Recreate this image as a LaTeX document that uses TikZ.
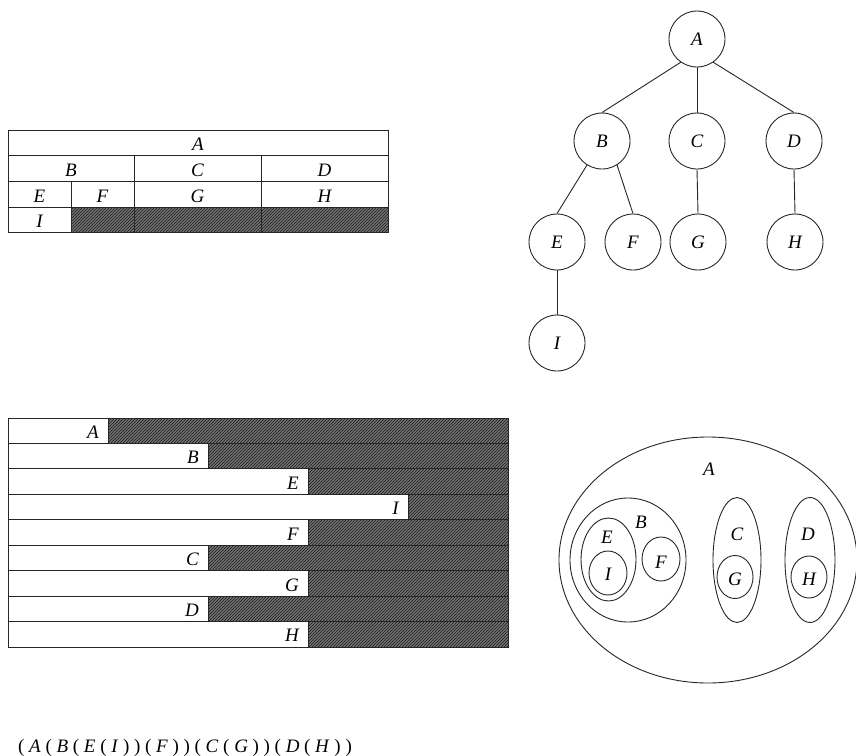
\documentclass[tikz,border=0pt]{standalone}
\usepackage{fontspec}
\setmainfont{Liberation Serif}
\usetikzlibrary{patterns}

\newcommand\chgap{\hspace{4.7pt}}
\newcommand\lt[1]{\textit{#1}\chgap}
\newcommand\pa[1]{#1\chgap}

\tikzset{
  ink/.style={draw=black!85, line width=0.9pt},
  lbl/.style={font=\fontsize{19}{22}\selectfont\itshape, inner sep=0pt},
  treenode/.style={circle, ink, minimum size=56pt, inner sep=0pt,
                   font=\fontsize{19}{22}\selectfont\itshape},
  hatched/.style={fill=black!55,
                  postaction={pattern=north east lines, pattern color=black!90}},
}

\begin{document}
\begin{tikzpicture}[x=1pt, y=-1pt]
\useasboundingbox (0,0) rectangle (856,755);

% ---------- nested table ----------
\fill[hatched] (71,207) rectangle (388,232);
\draw[ink] (8,130) rectangle (388,232);
\draw[ink] (8,155) -- (388,155) (8,181) -- (388,181) (8,207) -- (388,207);
\draw[ink] (134,155) -- (134,232) (261,155) -- (261,232) (71,181) -- (71,232);
\node[lbl, anchor=base] (tA) at (198,150) {A};
\node[lbl, anchor=base] (tB) at (71,176) {B};
\node[lbl, anchor=base] (tC) at (197.5,176) {C};
\node[lbl, anchor=base] (tD) at (324.5,176) {D};
\node[lbl, anchor=base] (tE) at (39.5,202) {E};
\node[lbl, anchor=base] (tF) at (102.5,202) {F};
\node[lbl, anchor=base] (tG) at (197.5,202) {G};
\node[lbl, anchor=base] (tH) at (324.5,202) {H};
\node[lbl, anchor=base] (tI) at (39.5,227) {I};

% ---------- tree ----------
\node[treenode] (A) at (697,39) {A};
\node[treenode] (B) at (602,141) {B};
\node[treenode] (C) at (697,141) {C};
\node[treenode] (D) at (794,141) {D};
\node[treenode] (E) at (557,242) {E};
\node[treenode] (F) at (633,242) {F};
\node[treenode] (G) at (698,242) {G};
\node[treenode] (H) at (795,242) {H};
\node[treenode] (I) at (557,343) {I};
\draw[ink] (A.235) -- (B.north);
\draw[ink] (A.south) -- (C.north);
\draw[ink] (A.305) -- (D.north);
\draw[ink] (B.238) -- (E.north);
\draw[ink] (B.302) -- (F.north);
\draw[ink] (C.south) -- (G.north);
\draw[ink] (D.south) -- (H.north);
\draw[ink] (E.south) -- (I.north);

% ---------- indented bars ----------
\foreach \lab/\d [count=\i from 0] in {A/0,B/1,E/2,I/3,F/2,C/1,G/2,D/1,H/2} {
  \pgfmathsetmacro\rtop{418+25.44*\i}
  \pgfmathsetmacro\rbot{\rtop+25.44}
  \pgfmathsetmacro\redge{108+100*\d}
  \fill[hatched] (\redge,\rtop) rectangle (508,\rbot);
  \draw[ink] (8,\rtop) rectangle (508,\rbot);
  \draw[ink] (\redge,\rtop) -- (\redge,\rbot);
  \node[lbl, anchor=base east] (b\lab) at (\redge-9,\rbot-5) {\lab};
}

% ---------- nested sets ----------
\draw[ink] (708,560) ellipse [x radius=149, y radius=123];
\draw[ink] (628,560) ellipse [x radius=58, y radius=62];
\draw[ink] (608.5,559.5) ellipse [x radius=27.5, y radius=41.5];
\draw[ink] (608,573) ellipse [x radius=19, y radius=22];
\draw[ink] (661,559) ellipse [x radius=19, y radius=22];
\draw[ink] (737,560) ellipse [x radius=24, y radius=62.5];
\draw[ink] (735,577) ellipse [x radius=18, y radius=21.5];
\draw[ink] (810,560) ellipse [x radius=25, y radius=62.5];
\draw[ink] (809,577) ellipse [x radius=18, y radius=21];
\node[lbl] (sA) at (709,469) {A};
\node[lbl] (sB) at (641,522) {B};
\node[lbl] (sE) at (607,537) {E};
\node[lbl] (sI) at (608,574) {I};
\node[lbl] (sF) at (661,562) {F};
\node[lbl] (sC) at (737,534) {C};
\node[lbl] (sG) at (735,579) {G};
\node[lbl] (sD) at (808,534) {D};
\node[lbl] (sH) at (809,579) {H};

% ---------- parenthesised form ----------
\node[inner sep=0pt, anchor=base west, font=\fontsize{19}{22}\selectfont] (paren) at (18,752)
  {\pa(\lt{A}\pa(\lt{B}\pa(\lt{E}\pa(\lt{I}\pa)\pa)\pa(\lt{F}\pa)\pa)\pa(\lt{C}\pa(\lt{G}\pa)\pa)\pa(\lt{D}\pa(\lt{H}\pa))};
\end{tikzpicture}
\end{document}
